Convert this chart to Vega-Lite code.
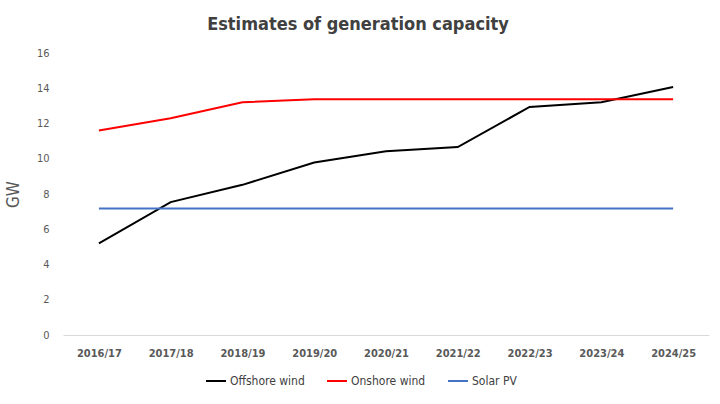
{
  "$schema": "https://vega.github.io/schema/vega-lite/v6.json",
  "description": "Estimates of generation capacity",
  "autosize": {"type": "none"},
  "width": 646,
  "height": 282,
  "padding": {"left": 63, "top": 53, "right": 11, "bottom": 69},
  "background": "white",
  "title": {
    "text": "Estimates of generation capacity",
    "font": "DejaVu Sans Condensed",
    "fontSize": 18,
    "fontWeight": "bold",
    "color": "#404040",
    "anchor": "middle",
    "dx": -28,
    "offset": 13
  },
  "data": {
    "values": [
      {"year": "2016/17", "series": "Offshore wind", "gw": 5.2},
      {"year": "2017/18", "series": "Offshore wind", "gw": 7.54},
      {"year": "2018/19", "series": "Offshore wind", "gw": 8.52},
      {"year": "2019/20", "series": "Offshore wind", "gw": 9.79},
      {"year": "2020/21", "series": "Offshore wind", "gw": 10.42},
      {"year": "2021/22", "series": "Offshore wind", "gw": 10.66},
      {"year": "2022/23", "series": "Offshore wind", "gw": 12.94},
      {"year": "2023/24", "series": "Offshore wind", "gw": 13.2},
      {"year": "2024/25", "series": "Offshore wind", "gw": 14.07},
      {"year": "2016/17", "series": "Onshore wind", "gw": 11.6},
      {"year": "2017/18", "series": "Onshore wind", "gw": 12.3},
      {"year": "2018/19", "series": "Onshore wind", "gw": 13.2},
      {"year": "2019/20", "series": "Onshore wind", "gw": 13.37},
      {"year": "2020/21", "series": "Onshore wind", "gw": 13.37},
      {"year": "2021/22", "series": "Onshore wind", "gw": 13.37},
      {"year": "2022/23", "series": "Onshore wind", "gw": 13.37},
      {"year": "2023/24", "series": "Onshore wind", "gw": 13.37},
      {"year": "2024/25", "series": "Onshore wind", "gw": 13.37},
      {"year": "2016/17", "series": "Solar PV", "gw": 7.18},
      {"year": "2017/18", "series": "Solar PV", "gw": 7.18},
      {"year": "2018/19", "series": "Solar PV", "gw": 7.18},
      {"year": "2019/20", "series": "Solar PV", "gw": 7.18},
      {"year": "2020/21", "series": "Solar PV", "gw": 7.18},
      {"year": "2021/22", "series": "Solar PV", "gw": 7.18},
      {"year": "2022/23", "series": "Solar PV", "gw": 7.18},
      {"year": "2023/24", "series": "Solar PV", "gw": 7.18},
      {"year": "2024/25", "series": "Solar PV", "gw": 7.18}
    ]
  },
  "mark": {"type": "line", "strokeWidth": 2},
  "encoding": {
    "x": {
      "field": "year",
      "type": "ordinal",
      "scale": {"type": "point", "padding": 0.5},
      "axis": {
        "title": null,
        "labelAngle": 0,
        "ticks": false,
        "grid": false,
        "domainColor": "#d9d9d9",
        "labelFont": "DejaVu Sans Condensed",
        "labelFontSize": 11,
        "labelFontWeight": "bold",
        "labelColor": "#595959",
        "labelPadding": 12
      }
    },
    "y": {
      "field": "gw",
      "type": "quantitative",
      "scale": {"domain": [0, 16], "nice": false},
      "axis": {
        "title": "GW",
        "titleFont": "DejaVu Sans Condensed",
        "titleFontSize": 17,
        "titleFontWeight": "normal",
        "titleColor": "#595959",
        "titlePadding": 14,
        "values": [0, 2, 4, 6, 8, 10, 12, 14, 16],
        "grid": false,
        "domain": false,
        "ticks": false,
        "labelFont": "DejaVu Sans Condensed",
        "labelFontSize": 11,
        "labelColor": "#595959",
        "labelPadding": 14
      }
    },
    "color": {
      "field": "series",
      "type": "nominal",
      "scale": {
        "domain": ["Offshore wind", "Onshore wind", "Solar PV"],
        "range": ["#000000", "#ff0000", "#4472c4"]
      },
      "legend": {
        "title": null,
        "orient": "none",
        "legendX": 142,
        "legendY": 317,
        "direction": "horizontal",
        "symbolType": "stroke",
        "symbolStrokeWidth": 2,
        "symbolSize": 400,
        "labelFont": "DejaVu Sans Condensed",
        "labelFontSize": 12,
        "labelColor": "#404040",
        "labelOffset": 3,
        "columnPadding": 18
      }
    }
  },
  "config": {
    "view": {"stroke": null}
  }
}
